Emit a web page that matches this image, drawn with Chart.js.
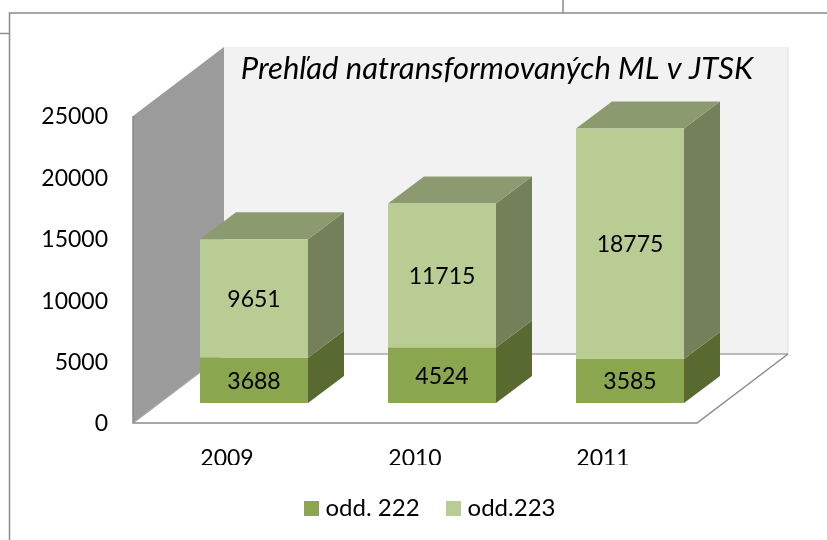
<!DOCTYPE html>
<html><head><meta charset="utf-8">
<style>html,body{margin:0;padding:0;background:#fff;overflow:hidden}#w{position:relative;width:827px;height:540px}</style>
<script src="https://cdn.jsdelivr.net/npm/chart.js@4/dist/chart.umd.js"></script>
</head><body><div id="w"><canvas id="c" width="827" height="540"></canvas></div>
<script>
const categories = ['2009', '2010', '2011'];
const odd222 = [3688, 4524, 3585];
const odd223 = [9651, 11715, 18775];
const seriesNames = ['odd. 222', 'odd.223'];
const titleText = 'Prehľad natransformovaných ML v JTSK';

const FONT = 'Lato, Carlito, Calibri, sans-serif';
const frontColors = ['#8aa64e', '#b9cc93'];
const sideColors = ['#586a30', '#738059'];
const topColor = '#8c9b6f';
const plane = {dx: 27, dy: 20};   // axis plane relative to bar front plane
const wall = {dx: 91, dy: 69};
const bar = {dx: 36, dy: 27};

function poly(ctx, pts, fill) {
  ctx.beginPath();
  pts.forEach((p, i) => i ? ctx.lineTo(p[0], p[1]) : ctx.moveTo(p[0], p[1]));
  ctx.closePath();
  ctx.fillStyle = fill;
  ctx.fill();
}
function line(ctx, pts, color, w) {
  ctx.beginPath();
  pts.forEach((p, i) => i ? ctx.lineTo(p[0], p[1]) : ctx.moveTo(p[0], p[1]));
  ctx.strokeStyle = color;
  ctx.lineWidth = w;
  ctx.stroke();
}
function swatch(color) {
  const s = document.createElement('canvas');
  s.width = 15; s.height = 15;
  const g = s.getContext('2d');
  g.fillStyle = color;
  g.fillRect(0, 0, 15, 15);
  return s;
}
const swatches = frontColors.map(swatch);

const box3d = {
  id: 'box3d',
  afterLayout(chart) {
    const lg = chart.legend, tb = chart.titleBlock;
    const lgShift = 53;
    lg.left += lgShift; lg.right += lgShift;
    const tShift = 118;
    tb.left += tShift; tb.right += tShift;
  },
  beforeDraw(chart) {
    const ctx = chart.ctx, a = chart.chartArea;
    ctx.save();
    // sheet frame
    line(ctx, [[0, 33.5], [9.5, 33.5]], '#8c8c8c', 1.5);
    line(ctx, [[563, 0], [563, 13]], '#8c8c8c', 1.5);
    line(ctx, [[9.5, 540], [9.5, 13], [827, 13]], '#8c8c8c', 1.5);
    // walls
    const L = a.left - plane.dx, R = a.right - plane.dx, T = a.top + plane.dy, B = a.bottom + plane.dy;
    const bL = L + wall.dx, bR = R + wall.dx, bT = T - wall.dy, bB = B - wall.dy;
    poly(ctx, [[bL, bT], [bR, bT], [bR, bB], [bL, bB]], '#f2f2f2');
    poly(ctx, [[L, T], [bL, bT], [bL, bB], [L, B]], '#9b9b9b');
    line(ctx, [[bR, bT], [bR, bB]], '#e2e2e2', 1);
    line(ctx, [[bL, bB], [bR, bB]], '#a6a6a6', 1.5);
    line(ctx, [[L, B], [bL, bB]], '#a6a6a6', 1.5);
    line(ctx, [[L, T], [L, B], [R, B], [bR, bB]], '#8a8a8a', 1.5);
    ctx.restore();
  },
  beforeDatasetsDraw(chart) {
    const ctx = chart.ctx;
    ctx.save();
    const n = chart.data.datasets.length;
    chart.data.datasets.forEach((ds, di) => {
      chart.getDatasetMeta(di).data.forEach(el => {
        const r = el.x + el.width / 2, l = el.x - el.width / 2;
        poly(ctx, [[r, el.y], [r + bar.dx, el.y - bar.dy], [r + bar.dx, el.base - bar.dy], [r, el.base]], sideColors[di]);
        if (di === n - 1) {
          poly(ctx, [[l, el.y], [l + bar.dx, el.y - bar.dy], [r + bar.dx, el.y - bar.dy], [r, el.y]], topColor);
        }
      });
    });
    ctx.restore();
  },
  afterDatasetsDraw(chart) {
    const ctx = chart.ctx;
    ctx.save();
    ctx.font = '23px ' + FONT;
    ctx.fillStyle = '#000';
    ctx.textAlign = 'center';
    ctx.textBaseline = 'middle';
    chart.data.datasets.forEach((ds, di) => {
      chart.getDatasetMeta(di).data.forEach((el, i) => {
        ctx.fillText(String(ds.data[i]), el.x, (el.y + el.base) / 2 + 1);
      });
    });
    ctx.restore();
  }
};

new Chart(document.getElementById('c'), {
  type: 'bar',
  data: {
    labels: categories,
    datasets: [
      {label: seriesNames[0], data: odd222, backgroundColor: frontColors[0], borderWidth: 0},
      {label: seriesNames[1], data: odd223, backgroundColor: frontColors[1], borderWidth: 0}
    ]
  },
  plugins: [box3d],
  options: {
    responsive: false,
    animation: false,
    layout: {padding: {left: 34, right: 103, top: 0, bottom: 10}},
    datasets: {bar: {categoryPercentage: 0.5745, barPercentage: 1}},
    scales: {
      x: {
        stacked: true,
        grid: {display: false},
        border: {display: false},
        ticks: {color: '#000', font: {family: FONT, size: 23}, padding: 34, labelOffset: -plane.dx, maxRotation: 0},
        afterFit(s) {
          const lh = (s.chart.legend && s.chart.legend.height) || 0;
          s.height = 540 - 403 - 10 - lh;
        }
      },
      y: {
        stacked: true,
        min: 0,
        max: 25000,
        grid: {display: false},
        border: {display: false},
        ticks: {stepSize: 5000, color: '#000', font: {family: FONT, size: 23}, padding: 44, labelOffset: plane.dy + 1, callback: v => String(v)},
        afterFit(s) { s.width = 126; }
      }
    },
    plugins: {
      title: {
        display: true,
        text: titleText,
        color: '#000',
        font: {family: FONT, size: 31, style: 'italic', weight: 'normal', lineHeight: 1.2},
        padding: {top: 49.9, bottom: 8.9}
      },
      legend: {
        position: 'bottom',
        labels: {
          color: '#000',
          font: {family: FONT, size: 24},
          usePointStyle: true,
          pointStyleWidth: 5,
          boxHeight: 15,
          padding: 31,
          generateLabels(chart) {
            return Chart.defaults.plugins.legend.labels.generateLabels(chart)
              .map((it, i) => Object.assign(it, {pointStyle: swatches[i]}));
          }
        }
      },
      tooltip: {enabled: false}
    }
  }
});
</script></body></html>
